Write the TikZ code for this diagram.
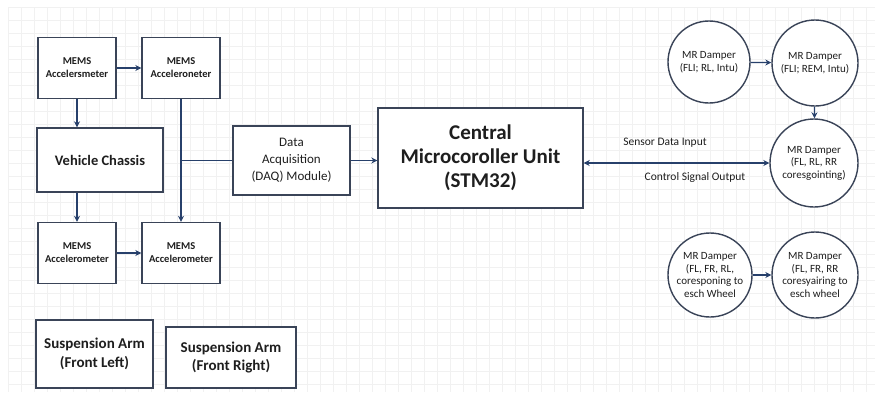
\documentclass[tikz,border=0pt]{standalone}
\usepackage{fontspec}
\setmainfont{Carlito}
\usetikzlibrary{arrows.meta,positioning,calc}
\definecolor{edge}{HTML}{3A4458}
\definecolor{wire}{HTML}{27406B}
\definecolor{ink}{HTML}{1E1E1E}
\definecolor{gridc}{HTML}{F1F1F1}

\begin{document}
\begin{tikzpicture}[
  x=1pt, y=-1pt,
  box/.style={draw=edge, line width=1.4pt, fill=white, align=center, text=ink, inner sep=2pt},
  sensor/.style={box, font=\fontsize{10.5}{13}\selectfont\bfseries, minimum width=78pt, minimum height=61pt},
  armbox/.style={box, font=\fontsize{15}{18.5}\selectfont\bfseries, minimum height=66pt},
  damper/.style={circle, draw=edge, line width=1.4pt, fill=white, align=center, text=ink,
                 inner sep=0pt, font=\fontsize{11}{12.5}\selectfont},
  arr/.style={-{Stealth[length=6pt, width=6pt]}, draw=wire, line width=1.3pt},
  dbl/.style={{Stealth[length=6pt, width=6pt]}-{Stealth[length=6pt, width=6pt]}, draw=wire, line width=1.3pt},
  lnk/.style={draw=wire, line width=1.3pt},
  lbl/.style={text=ink, font=\fontsize{11.5}{13}\selectfont}
]
\useasboundingbox (0,0) rectangle (875,392);
\fill[white] (0,0) rectangle (875,392);
% faint paper grid
\foreach \gx in {8,21,...,875} \draw[gridc, line width=0.6pt] (\gx,7) -- (\gx,392);
\foreach \gy in {7,20,...,392} \draw[gridc, line width=0.6pt] (8,\gy) -- (875,\gy);

% sensors and chassis
\node[sensor] (mems1) at (77,68) {MEMS\\Accelersmeter};
\node[sensor] (mems2) at (181,68) {MEMS\\Acceleroneter};
\node[box, font=\fontsize{14.5}{17}\selectfont\bfseries, minimum width=126pt, minimum height=64pt] (chassis) at (100,160) {Vehicle Chassis};
\node[sensor] (mems3) at (77,253) {MEMS\\Accelerometer};
\node[sensor] (mems4) at (181,253) {MEMS\\Accelerometer};
\node[armbox, minimum width=117pt, minimum height=68pt] (armFL) at (94.5,354) {Suspension Arm\\(Front Left)};
\node[armbox, minimum width=130pt, minimum height=61pt] (armFR) at (231,357.5) {Suspension Arm\\(Front Right)};

% acquisition and controller
\node[box, font=\fontsize{13}{17}\selectfont, minimum width=117pt, minimum height=69pt] (daq) at (291.5,160.5) {Data\\Acquisition\\(DAQ) Module)};
\node[box, font=\fontsize{21}{24}\selectfont\bfseries, minimum width=205pt, minimum height=100pt] (mcu) at (480.5,158) {Central\\Microcoroller Unit\\(STM32)};

% dampers
\node[damper, minimum size=82pt] (d1) at (709,62) {MR Damper\\(FLI; RL, Intu)};
\node[damper, minimum size=86pt] (d2) at (815,63) {MR Damper\\(FLI; REM, Intu)};
\node[damper, minimum size=88pt] (d3) at (814,163) {MR Damper\\(FL, RL, RR\\coresgointing)};
\node[damper, minimum size=84pt] (d5) at (710,275) {MR Damper\\(FL, FR, RL,\\coresponing to\\esch Wheel};
\node[damper, minimum size=86pt] (d4) at (815,275) {MR Damper\\(FL, FR, RR\\coresyairing to\\esch wheel};

\node[lbl] (inlbl) at (665,143) {Sensor Data Input};
\node[lbl] (outlbl) at (695,177) {Control Signal Output};

\draw[arr] (mems1) -- (mems2);
\draw[arr] (mems1.south) -- (mems1.south |- chassis.north);
\draw[arr] (mems3.north |- chassis.south) -- (mems3.north);
\draw[arr] (mems2) -- (mems4);
\coordinate (tap) at (mems2.south |- daq.west);
\draw[lnk] (tap) -- (daq.west);
\draw[arr] (mems3) -- (mems4);
\draw[arr] (daq.east) -- (daq.east -| mcu.west);
\draw[dbl] (d3.west -| mcu.east) -- (d3.west);
\draw[arr] (d1) -- (d2);
\draw[arr] (d2) -- (d3);
\draw[arr] (d5) -- (d4);
\end{tikzpicture}
\end{document}
